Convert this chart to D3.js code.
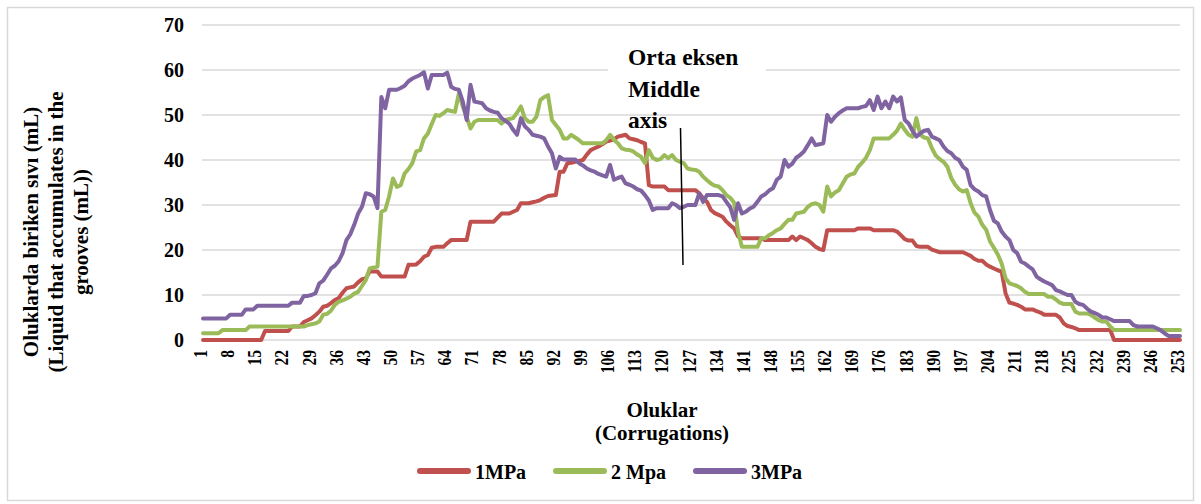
<!DOCTYPE html>
<html><head><meta charset="utf-8">
<script src="https://cdn.jsdelivr.net/npm/d3@7/dist/d3.min.js"></script>
<style>body{margin:0;background:#fff}svg text{font-family:"Liberation Serif","Times New Roman",serif;font-weight:bold;fill:#000}</style>
</head><body>
<svg id="c" width="1201" height="504"></svg>
<script>
const categories = d3.range(1, 254);
const tickLabels = ["1","8","15","22","29","36","43","50","57","64","71","78","85","92","99","106","113","120","127","134","141","148","155","162","169","176","183","190","197","204","211","218","225","232","239","246","253"];
const yTicks = [0,10,20,30,40,50,60,70];
const seriesNames = ["1MPa","2 Mpa","3MPa"];
const seriesColors = ["#C0504D","#9BBB59","#8064A2"];

const mpa1 = [0,0,0,0,0,0,0,0,0,0,0,0,0,0,0,0,
2,2,2,2,2,2,2,
3,3,3,
4,4.4,4.8,5.5,6.3,7.4,7.6,8.2,8.9,9.3,
10.5,11.5,11.7,11.9,12.8,13.5,13.7,15.2,15.2,15.2,
14.1,14.1,14.1,14.1,14.1,14.1,14.1,
16.7,16.7,16.8,17.5,18.5,18.9,20.5,
20.7,20.7,20.7,21.5,
22.2,22.2,22.2,22.2,22.2,
26.3,26.3,26.3,26.3,26.3,26.3,26.3,
27.2,28.1,28.1,28.1,28.5,28.9,
30.4,30.4,30.4,
30.6,30.8,31.1,31.6,32,32.1,32.2,
37.4,37.4,39.3,39.4,39.6,39.8,40,41.2,
42.2,42.6,43,43.5,44.1,44.3,44.6,45.2,45.4,45.6,
44.8,44.6,44.4,44,43.7,34.4,
34.1,34.1,34.1,34.1,
33.3,33.3,33.3,33.3,33.3,33.3,33.3,33.3,
32.6,31.5,30.7,28.9,28.2,27.8,27.4,26.3,25.5,24.8,23,
22.6,22.6,22.6,22.6,22.6,22.6,
22.2,22.2,22.2,22.2,22.2,22.2,22.2,
23,22.2,23,22.6,22.2,21.5,20.7,20.2,20,
24.4,24.4,24.4,24.4,24.4,24.4,24.4,24.4,
24.8,24.8,24.8,24.8,
24.4,24.4,24.4,24.4,24.4,24.4,
24.1,23.3,22.4,22.1,22.1,20.9,
20.7,20.7,20.7,
20.1,19.8,
19.5,19.5,19.5,19.5,19.5,19.5,19.5,
19.1,18.7,18,17.6,17.6,16.8,16.3,15.9,15.5,15.2,
10.4,8.3,8.1,7.8,7.4,
6.8,6.8,6.8,
6.4,6.1,
5.6,5.6,5.6,5.6,5.0,
3.7,3.1,2.9,2.6,
2.2,2.2,2.2,2.2,2.2,2.2,2.2,2.2,2.2,
0,0,0,0,0,0,0,0,0,0,0,0,0,0,0,0,0,0];

const mpa2 = [1.5,1.5,1.5,1.5,1.5,
2.2,2.2,2.2,2.2,2.2,2.2,2.2,
3,3,3,3,3,3,3,3,3,3,3,3,3,3,3,
3.3,3.5,3.7,4.1,5.6,5.8,6.5,7.8,8.5,8.8,9.2,9.6,10.3,
10.7,12,13.3,15.9,16.1,16.3,28.5,28.9,31.9,35.9,
34,34.4,37,38,39.3,41.9,42.2,44.8,45.9,48,
50,49.8,50.4,51.1,50.9,50.7,54.8,51.9,49.6,47,
48.5,48.9,48.9,48.9,48.9,48.9,48.9,
48.1,48.9,49.1,49.3,50.5,51.9,49.3,48.5,48.5,49.6,
53.3,54,54.4,48.9,47.8,46.7,44.8,44.8,45.6,45,
44.4,43.7,43.7,43.7,43.7,43.7,43.7,
44.4,45.6,44.5,43.7,42.6,42.3,42.2,41.9,41.2,40.7,
39.3,42.2,40.5,40,40.2,41.1,40.4,41.1,40,39.6,
39.3,38.1,37.9,37.8,37.4,36.3,35.5,34.8,34.3,34.1,
33.3,32.2,31.6,30.5,24,
20.7,20.7,20.7,20.7,20.7,
22.6,22.6,23.3,23.8,24.4,24.8,25.8,26.7,26.7,28.1,
28.3,28.5,29.6,30.2,30.4,30,28.5,34.1,31.9,32.8,
33.3,34.8,36.3,36.8,37,38.5,39.4,40.5,42.2,
44.8,44.8,44.8,44.8,44.8,
45.6,46.5,48.1,46.7,45.6,45.2,49.3,45.6,45,44.8,
42.6,41,40.2,39.6,38.5,36,34.5,33.5,33,33.3,
30.4,28.3,27.4,25.6,24.5,21.9,20.5,19,17,13.7,
12.6,12.3,12,11.5,10.7,
10.2,10.2,10.2,10.2,10.2,
9.6,9.6,9,8.3,
8,8,8,
6.3,5.9,5.9,5.9,5.6,5,4.4,4.1,4.1,3,
2.2,2.2,2.2,2.2,2.2,2.2,2.2,2.2,2.2,2.2,2.2,2.2,2.2,2.2,2.2,2.2,2.2,2.2];

const mpa3 = [4.8,4.8,4.8,4.8,4.8,4.8,4.8,
5.6,5.6,5.6,5.6,
6.8,6.8,6.8,
7.6,7.6,7.6,7.6,7.6,7.6,7.6,7.6,7.6,
8.3,8.3,8.3,
9.8,9.8,10,10.4,12.6,13.2,14.5,15.9,16.5,17.5,
19.3,22.2,23.5,25.6,28.1,29.6,32.6,32.4,31.9,29.3,
54,51.5,55.6,55.6,55.6,56,56.5,57.5,58.1,58.5,
58.9,59.5,55.9,58.9,58.9,58.9,58.9,59.4,56.3,55.8,
55.6,53,48.9,56.7,53,52.8,52.6,51.5,51,50.7,
50.5,49.3,48.7,48.1,46.7,45.6,49.3,47.5,46.7,45.6,
45.4,45.2,44.8,43,41.5,38.1,40.7,40.1,40.1,40.1,
40.1,39.3,38.8,38.1,37.7,37.4,36.9,36.6,36.3,38.9,
35.6,36,36.3,34.8,34.5,34.1,33.5,33.2,32.2,31,
28.9,29.3,29.3,29.3,29.3,30.4,30,29.3,29.6,30,
30,30,32.6,30.7,32.2,32.2,32.2,32.2,31.9,30.7,
29.5,26.7,30.4,28.1,28.5,29.2,29.6,30.7,31.9,32.4,
33.2,33.7,35.6,36.3,40,38.5,39.2,40.5,41.1,41.9,
43.3,44.8,43.3,43.5,43.7,50,48.5,49.6,50.4,51,
51.5,51.5,51.5,51.5,51.8,52,53.3,51.1,54.1,51.5,
53,51.5,54.1,53,53.9,48.9,48.1,46.5,45.2,45.9,
46.5,46.7,45.2,44.8,44.4,43,42,41.5,40.5,40,
38.5,37.8,34.4,33.5,33,32.2,31.9,28.9,26.5,25.9,
24.1,23,22.2,20,19.3,17.4,17,16.3,15.7,14.1,
13.5,13,12.6,12.2,11.1,10.8,10.4,10,10,8.5,
8,7.8,7,6.3,6,5.6,5,5,4.6,4.2,
4.2,4.2,4.2,4.2,3.3,3,3,3,3,3,
2.6,2.2,1.5,0.9,0.9,0.9,0.9];

const series = [mpa1, mpa2, mpa3];

const svg = d3.select("#c");
svg.append("rect").attr("x",7.5).attr("y",7.5).attr("width",1186).attr("height",493)
  .attr("fill","#fff").attr("stroke","#d9d9d9").attr("stroke-width",1.5);

const x = d3.scalePoint().domain(categories).range([203, 1180]);
const y = d3.scaleLinear().domain([0,70]).range([340,25]);

// gridlines
svg.append("g").selectAll("line").data(yTicks).join("line")
  .attr("x1",202).attr("x2",1180).attr("y1",d=>y(d)).attr("y2",d=>y(d))
  .attr("stroke","#d9d9d9").attr("stroke-width",1.5);

// y axis labels
svg.append("g").selectAll("text").data(yTicks).join("text")
  .attr("x",184).attr("y",d=>y(d)+7).attr("text-anchor","end")
  .style("font-size","20px").text(d=>d);

// x axis labels
svg.append("g").selectAll("text").data(tickLabels).join("text")
  .attr("transform",d=>`translate(${x(+d)+4},350) rotate(-90) scale(0.82,1)`)
  .attr("text-anchor","end").style("font-size","19px").text(d=>d);

// annotation box
svg.append("rect").attr("x",608).attr("y",40).attr("width",158).attr("height",66).attr("fill","#fff");

// series lines
const line = d3.line().x((d,i)=>x(categories[i])).y(d=>y(d));
svg.append("g").selectAll("path").data(series).join("path")
  .attr("d",d=>line(d)).attr("fill","none")
  .attr("stroke",(d,i)=>seriesColors[i]).attr("stroke-width",4)
  .attr("stroke-linejoin","round").attr("stroke-linecap","round");

// annotation text
const ann = ["Orta eksen","Middle","axis"];
svg.append("g").selectAll("text").data(ann).join("text")
  .attr("x",628).attr("y",(d,i)=>65+i*31.5).style("font-size","23.5px").text(d=>d);
svg.append("line").attr("x1",680.5).attr("y1",128).attr("x2",683).attr("y2",265)
  .attr("stroke","#000").attr("stroke-width",1.5);

// y title
const yt = ["Oluklarda biriken sıvı  (mL)","(Liquid that accumulates in the","grooves (mL))"];
svg.append("g").selectAll("text").data(yt).join("text")
  .attr("transform",(d,i)=>`translate(${38+i*25},232) rotate(-90)`)
  .attr("text-anchor","middle").style("font-size","21px").text(d=>d);

// x title
svg.append("text").attr("x",662).attr("y",417).attr("text-anchor","middle").style("font-size","21px").text("Oluklar");
svg.append("text").attr("x",662).attr("y",440).attr("text-anchor","middle").style("font-size","21px").text("(Corrugations)");

// legend
const lx = [417, 553, 693];
const lg = svg.append("g").selectAll("g").data(seriesNames).join("g")
  .attr("transform",(d,i)=>`translate(${lx[i]},471)`);
lg.append("line").attr("x1",3).attr("x2",51).attr("y1",0).attr("y2",0)
  .attr("stroke",(d,i)=>seriesColors[i]).attr("stroke-width",6).attr("stroke-linecap","round");
lg.append("text").attr("x",58).attr("y",8).style("font-size","20px").text(d=>d);
</script>
</body></html>
